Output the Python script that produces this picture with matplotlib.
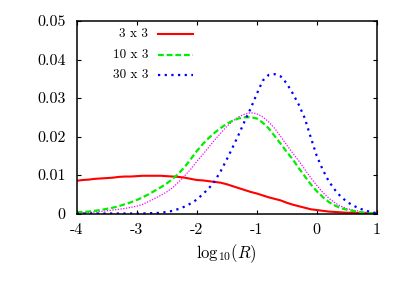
import matplotlib
matplotlib.use("Agg")
import matplotlib.pyplot as plt

# log10(R) grid and distributions
log_r = [-4.0, -3.9, -3.8, -3.7, -3.6, -3.5, -3.4, -3.3, -3.2, -3.1,
         -3.0, -2.9, -2.8, -2.7, -2.6, -2.5, -2.4, -2.3, -2.2, -2.1,
         -2.0, -1.9, -1.8, -1.7, -1.6, -1.5, -1.4, -1.3, -1.2, -1.1,
         -1.0, -0.9, -0.8, -0.7, -0.6, -0.5, -0.4, -0.3, -0.2, -0.1,
         0.0, 0.1, 0.2, 0.3, 0.4, 0.5, 0.6, 0.7, 0.8, 0.9, 1.0]

p_3x3 = [0.0085, 0.0087, 0.0088, 0.0090, 0.0091, 0.0092, 0.0093, 0.0095, 0.0096, 0.0096,
         0.0097, 0.0098, 0.0098, 0.0098, 0.0098, 0.0097, 0.0096, 0.0095, 0.0093, 0.0090,
         0.0087, 0.0086, 0.0084, 0.0082, 0.0080, 0.0076, 0.0071, 0.0066, 0.0061, 0.0056,
         0.0052, 0.0047, 0.0042, 0.0038, 0.0034, 0.0028, 0.0023, 0.0019, 0.0015, 0.0011,
         0.0009, 0.0007, 0.0005, 0.0004, 0.0003, 0.0002, 0.0002, 0.0001, 0.0001, 0.0000, 0.0000]

p_10x3 = [0.0003, 0.0004, 0.0005, 0.0007, 0.0009, 0.0012, 0.0015, 0.0019, 0.0024, 0.0029,
          0.0035, 0.0042, 0.0050, 0.0059, 0.0068, 0.0078, 0.0090, 0.0104, 0.0121, 0.0141,
          0.0162, 0.0180, 0.0196, 0.0210, 0.0222, 0.0233, 0.0241, 0.0247, 0.0250, 0.0250,
          0.0247, 0.0236, 0.0221, 0.0201, 0.0181, 0.0160, 0.0141, 0.0118, 0.0097, 0.0076,
          0.0058, 0.0043, 0.0030, 0.0021, 0.0014, 0.0010, 0.0007, 0.0004, 0.0002, 0.0001, 0.0000]

p_ref = [0.0002, 0.0002, 0.0003, 0.0004, 0.0005, 0.0007, 0.0009, 0.0011, 0.0013, 0.0016,
         0.0019, 0.0024, 0.0031, 0.0039, 0.0047, 0.0056, 0.0067, 0.0082, 0.0098, 0.0115,
         0.0135, 0.0153, 0.0172, 0.0191, 0.0209, 0.0226, 0.0240, 0.0251, 0.0258, 0.0262,
         0.0259, 0.0251, 0.0238, 0.0221, 0.0200, 0.0178, 0.0157, 0.0137, 0.0115, 0.0093,
         0.0073, 0.0055, 0.0040, 0.0028, 0.0019, 0.0013, 0.0009, 0.0006, 0.0003, 0.0001, 0.0000]

p_30x3 = [0.0000, 0.0000, 0.0000, 0.0000, 0.0000, 0.0000, 0.0000, 0.0000, 0.0000, 0.0000,
          0.0000, 0.0000, 0.0001, 0.0001, 0.0002, 0.0004, 0.0007, 0.0012, 0.0018, 0.0026,
          0.0036, 0.0050, 0.0065, 0.0084, 0.0110, 0.0140, 0.0172, 0.0205, 0.0240, 0.0273,
          0.0310, 0.0345, 0.0360, 0.0362, 0.0356, 0.0338, 0.0312, 0.0283, 0.0248, 0.0198,
          0.0150, 0.0114, 0.0084, 0.0062, 0.0044, 0.0031, 0.0021, 0.0014, 0.0008, 0.0004, 0.0001]

labels = ["3 x 3", "10 x 3", "30 x 3"]
x_ticks = [-4, -3, -2, -1, 0, 1]
x_tick_labels = ["-4", "-3", "-2", "-1", "0", "1"]
y_ticks = [0, 0.01, 0.02, 0.03, 0.04, 0.05]
y_tick_labels = ["0", "0.01", "0.02", "0.03", "0.04", "0.05"]

plt.rcParams["font.family"] = "serif"
plt.rcParams["font.serif"] = ["cmr10", "DejaVu Serif"]
plt.rcParams["mathtext.fontset"] = "cm"
plt.rcParams["axes.unicode_minus"] = False

fig = plt.figure(figsize=(4.09, 2.86), dpi=100)
ax = fig.add_axes([76.7 / 409, 1 - 213.5 / 286, 300 / 409, 192.5 / 286])

styles = [
    dict(color="#ff0000", lw=1.5, ls="-"),
    dict(color="#00ee00", lw=1.6, ls=(0, (2.6, 1.3))),
    dict(color="#0000ff", lw=1.6, ls=(0, (1, 2))),
]

ax.plot(log_r, p_ref, color="#ff00ff", lw=0.9, ls=(0, (1, 1.2)))
for series, st in zip([p_3x3, p_10x3, p_30x3], styles):
    ax.plot(log_r, series, **st)

ax.set_xlim(-4, 1)
ax.set_ylim(0, 0.05)
ax.set_xticks(x_ticks)
ax.set_xticklabels(x_tick_labels)
ax.set_yticks(y_ticks)
ax.set_yticklabels(y_tick_labels)
ax.tick_params(direction="in", length=3, width=0.8, top=True, right=True,
               labelsize=11.5)
ax.tick_params(axis="y", pad=8)
ax.tick_params(axis="x", pad=7)
for s in ax.spines.values():
    s.set_linewidth(1.1)

ax.set_xlabel(r"$\mathrm{log}_{10}(R)$", fontsize=12, labelpad=4)

# gnuplot-style key: right-aligned text, sample line to the right
for i, (lab, st) in enumerate(zip(labels, styles)):
    yk = 0.931 - i * 0.106
    ax.text(0.238, yk, lab, transform=ax.transAxes, ha="right", va="center",
            fontsize=9.5)
    ax.plot([0.272, 0.388], [yk, yk], transform=ax.transAxes, **st)

fig.savefig("out.png", dpi=100)
